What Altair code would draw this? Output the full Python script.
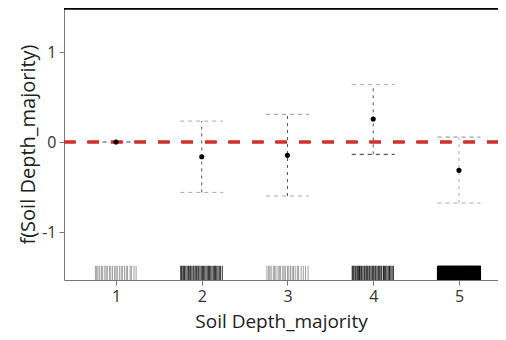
import altair as alt
import pandas as pd

# ---- data ----
categories = [1, 2, 3, 4, 5]
estimate = [0.0, -0.163, -0.148, 0.255, -0.315]
lower = [-0.004, -0.56, -0.60, -0.137, -0.678]
upper = [0.004, 0.233, 0.307, 0.64, 0.055]
vline_color = ["#777777", "#555555", "#555555", "#555555", "#aaaaaa"]
upcap_color = ["#999999", "#aaaaaa", "#999999", "#aaaaaa", "#888888"]
locap_color = ["#999999", "#aaaaaa", "#aaaaaa", "#333333", "#aaaaaa"]

rug_1 = [0.76, 0.775, 0.79, 0.81, 0.83, 0.845, 0.87, 0.885, 0.90, 0.925, 0.94, 0.96,
         0.985, 1.00, 1.015, 1.04, 1.06, 1.075, 1.10, 1.12, 1.135, 1.165, 1.18, 1.21, 1.235]
rug_2 = [1.755, 1.765, 1.78, 1.79, 1.80, 1.815, 1.83, 1.845, 1.855, 1.87, 1.885, 1.90,
         1.91, 1.925, 1.94, 1.955, 1.965, 1.98, 1.995, 2.01, 2.02, 2.035, 2.05, 2.065,
         2.08, 2.09, 2.105, 2.12, 2.135, 2.15, 2.16, 2.175, 2.19, 2.205, 2.22, 2.24]
rug_3 = [1.76, 1.78, 1.795, 1.81, 1.835, 1.85, 1.865, 1.89, 1.905, 1.92, 1.945, 1.96,
         1.975, 2.0, 2.015, 2.035, 2.055, 2.07, 2.09, 2.115, 2.13, 2.16, 2.185, 2.21, 2.24]
rug_4 = [1.755, 1.765, 1.775, 1.79, 1.80, 1.815, 1.83, 1.84, 1.855, 1.865, 1.88, 1.895,
         1.905, 1.92, 1.935, 1.95, 1.96, 1.975, 1.99, 2.005, 2.02, 2.03, 2.045, 2.06,
         2.075, 2.09, 2.10, 2.12, 2.13, 2.145, 2.16, 2.175, 2.19, 2.205, 2.22, 2.235]
rug_5 = [1.752, 1.76, 1.768, 1.775, 1.783, 1.79, 1.798, 1.805, 1.812, 1.82, 1.828, 1.835,
         1.843, 1.85, 1.858, 1.865, 1.872, 1.88, 1.888, 1.895, 1.903, 1.91, 1.918, 1.925,
         1.932, 1.94, 1.948, 1.955, 1.963, 1.97, 1.978, 1.985, 1.992, 2.0, 2.008, 2.015,
         2.023, 2.03, 2.038, 2.045, 2.052, 2.06, 2.068, 2.075, 2.083, 2.09, 2.098, 2.105,
         2.112, 2.12, 2.128, 2.135, 2.143, 2.15, 2.158, 2.165, 2.172, 2.18, 2.188, 2.195,
         2.203, 2.21, 2.218, 2.225, 2.232, 2.24, 2.248]
rug_sets = [rug_1, rug_2, rug_3, rug_4, rug_5]
rug_offset_base = [0.0, 0.0, 1.0, 2.0, 3.0]  # lists 3-5 are written around 2
rug_opacity = [0.38, 0.8, 0.38, 0.85, 1.0]
rug_width = [1, 1, 1, 1, 1.6]

x_ticks = [1, 2, 3, 4, 5]
y_ticks = [-1, 0, 1]
x_title = "Soil Depth_majority"
y_title = "f(Soil Depth_majority)"

# ---- tables ----
err = pd.DataFrame({
    "cat": categories, "est": estimate, "lo": lower, "hi": upper,
    "vcol": vline_color, "ucol": upcap_color, "lcol": locap_color,
})
err["left"] = err["cat"] - 0.25
err["right"] = err["cat"] + 0.25

rows = []
for i, s in enumerate(rug_sets):
    for v in s:
        rows.append({"rx": v + rug_offset_base[i], "op": rug_opacity[i], "sw": rug_width[i]})
rug = pd.DataFrame(rows)

W, H = 434, 272
XDOM = [0.394, 5.455]
YDOM = [-1.533, 1.489]
FONT = "Open Sans"

xscale = alt.Scale(domain=XDOM, nice=False, zero=False)
yscale = alt.Scale(domain=YDOM, nice=False, zero=False)
xaxis = alt.Axis(values=x_ticks, title=x_title, grid=False, labelExpr="'' + datum.value")
yaxis = alt.Axis(values=y_ticks, title=y_title, grid=False, labelExpr="'' + datum.value")

rug_layer = alt.Chart(rug).mark_rule(color="black").encode(
    x=alt.X("rx:Q", scale=xscale, axis=xaxis),
    y=alt.datum(-1.375, scale=yscale, axis=yaxis),
    y2=alt.datum(-1.533),
    opacity=alt.Opacity("op:Q", scale=None),
    strokeWidth=alt.StrokeWidth("sw:Q", scale=None),
)

vlines = alt.Chart(err).mark_rule(strokeWidth=1, strokeDash=[3, 4]).encode(
    x=alt.X("cat:Q", scale=xscale, axis=xaxis),
    y=alt.Y("lo:Q", scale=yscale, axis=yaxis),
    y2="hi:Q",
    color=alt.Color("vcol:N", scale=None),
)

ucaps = alt.Chart(err).mark_rule(strokeWidth=1, strokeDash=[4, 4]).encode(
    x=alt.X("left:Q", scale=xscale, axis=xaxis),
    x2="right:Q",
    y=alt.Y("hi:Q", scale=yscale, axis=yaxis),
    color=alt.Color("ucol:N", scale=None),
)

lcaps = alt.Chart(err).mark_rule(strokeWidth=1, strokeDash=[4, 4]).encode(
    x=alt.X("left:Q", scale=xscale, axis=xaxis),
    x2="right:Q",
    y=alt.Y("lo:Q", scale=yscale, axis=yaxis),
    color=alt.Color("lcol:N", scale=None),
)

zero = alt.Chart(err).mark_rule(color="#d0302f", strokeWidth=2.6, strokeDash=[11.5, 12]).encode(
    x=alt.value(0), x2=alt.value(W),
    y=alt.datum(0, scale=yscale, axis=yaxis),
)

pts = alt.Chart(err).mark_circle(color="black", opacity=1, size=26).encode(
    x=alt.X("cat:Q", scale=xscale, axis=xaxis),
    y=alt.Y("est:Q", scale=yscale, axis=yaxis),
)

top = alt.Chart(err).mark_rule(color="black", strokeWidth=1.6).encode(
    x=alt.value(0), x2=alt.value(W), y=alt.value(0.5),
)

chart = alt.layer(rug_layer, vlines, ucaps, lcaps, zero, pts, top).properties(
    width=W, height=H,
    autosize=alt.AutoSizeParams(type="none"),
    padding={"left": 56, "top": 0, "right": 0, "bottom": 52},
).configure_view(stroke=None).configure_axis(
    labelFont=FONT, titleFont=FONT,
    labelFontSize=16, titleFontWeight="normal",
    labelColor="#333333", titleColor="#222222",
    domainColor="#777777", tickColor="#777777", tickSize=5,
).configure_axisY(
    labelPadding=3, titlePadding=3, titleFontSize=20,
).configure_axisX(
    labelPadding=3, titlePadding=8, titleFontSize=19,
)

chart.save("out.html", embed_options={"renderer": "svg", "actions": False})
